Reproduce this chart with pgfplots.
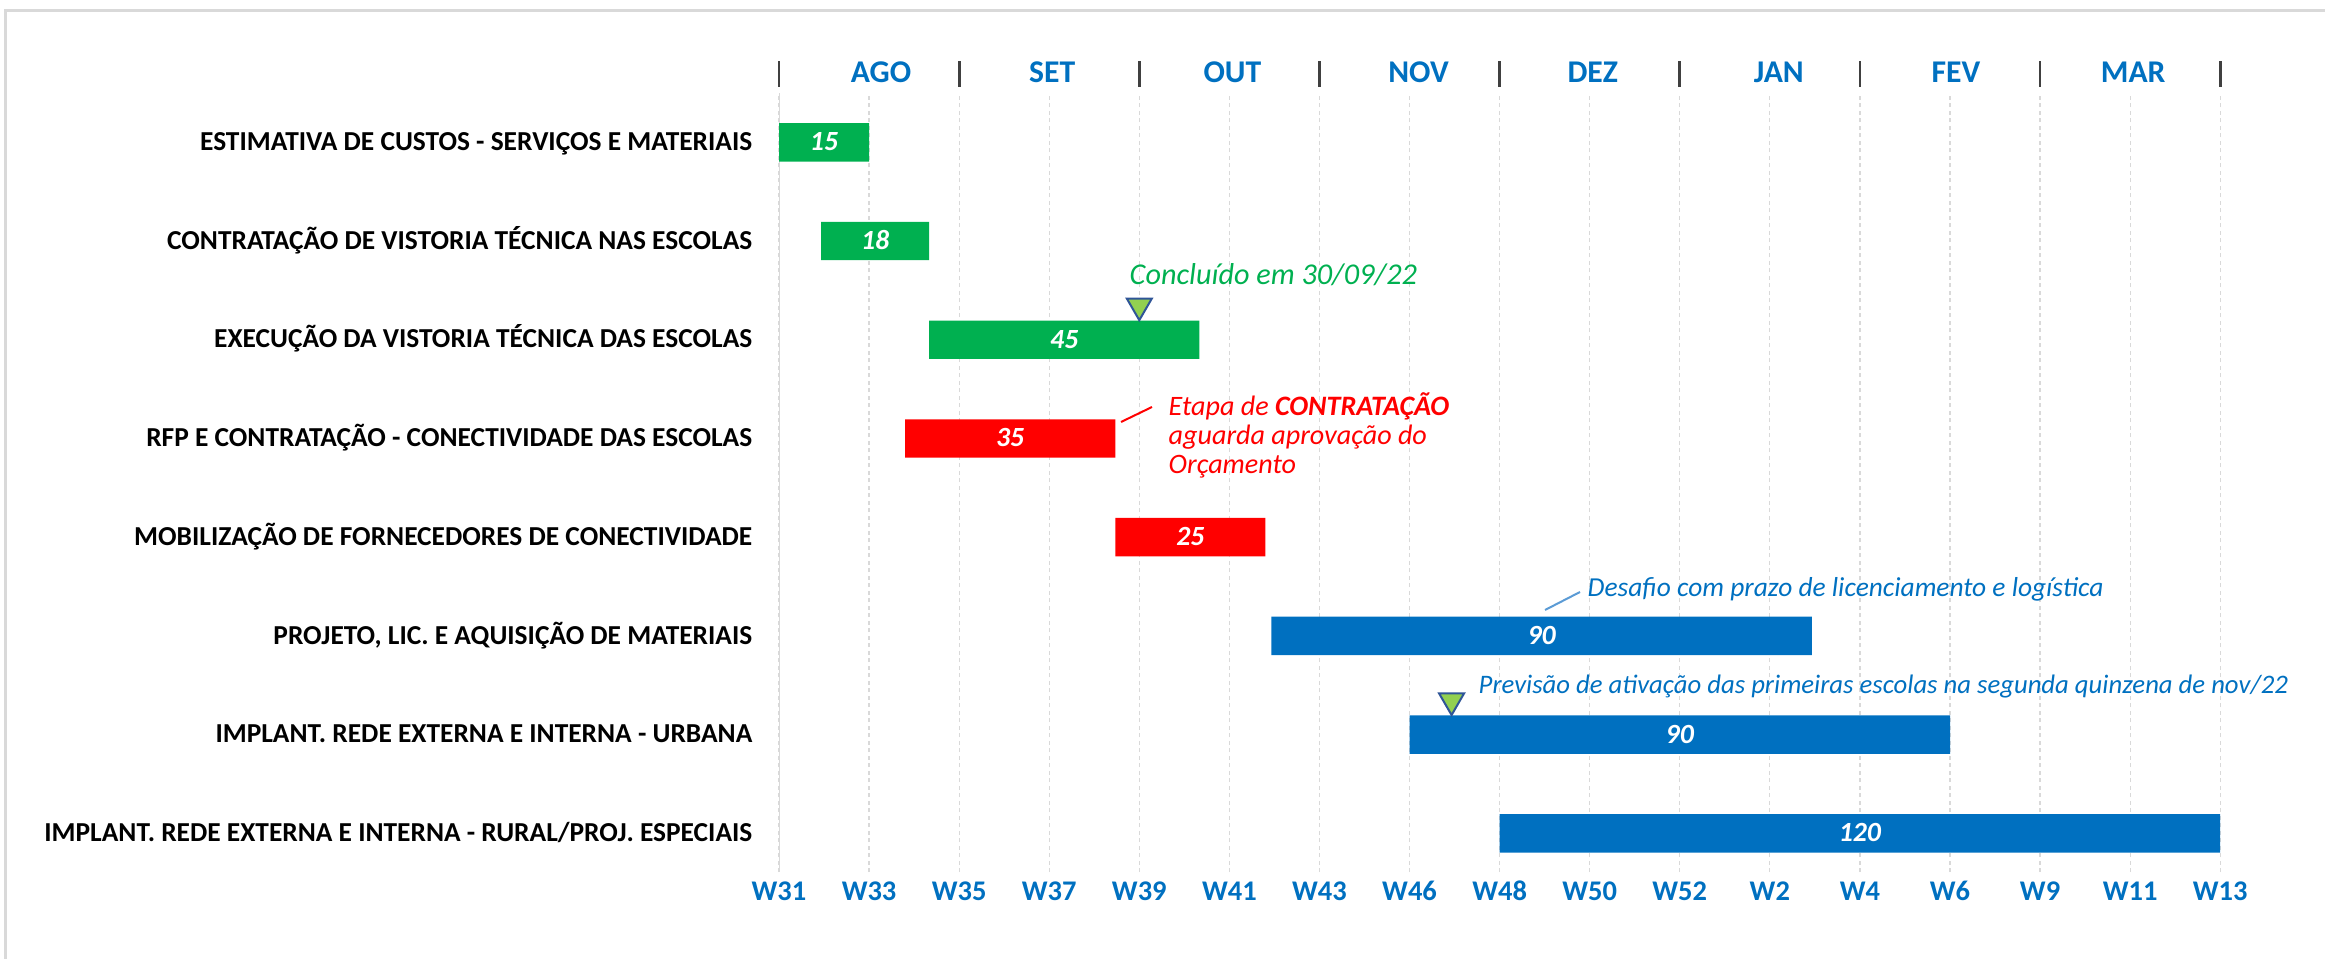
\documentclass[border=0pt]{standalone}
\usepackage{pgfplots}
\pgfplotsset{compat=1.18}
\usepackage{pgfplotstable}
\usepackage{fontspec}
\setmainfont{Carlito}
\definecolor{cgreen}{HTML}{00B050}
\definecolor{cred}{HTML}{FF0000}
\definecolor{cblue}{HTML}{0070C0}
\definecolor{cgrid}{HTML}{D9D9D9}
\definecolor{ctri}{HTML}{92D050}
\definecolor{ctriedge}{HTML}{2F5597}
\definecolor{clink}{HTML}{5B9BD5}
\definecolor{csep}{HTML}{404040}
\newcommand\lab{\fontsize{7.8}{9}\selectfont}
\newcommand\tck{\fontsize{8.1}{9.5}\selectfont}
\newcommand\val{\fontsize{7.9}{9.5}\selectfont}
\newcommand\mon{\fontsize{9}{10.5}\selectfont}
\newcommand\sepbar{\textcolor{csep}{\rule[-0.04cm]{0.028cm}{0.26cm}}}

\pgfplotstableread{
row start green red blue dur
8 0 15 0 0 15
7 7 18 0 0 18
6 25 45 0 0 45
5 21 0 35 0 35
4 56 0 25 0 25
3 82 0 0 90 90
2 105 0 0 90 90
1 120 0 0 120 120
}\tasks

\pgfplotstableread{
x y
60 6.344
112 2.344
}\milestones

\begin{document}
\begin{tikzpicture}[x=1cm,y=1cm]
\path[use as bounding box] (0,0) rectangle (23.25,9.59);
\draw[cgrid, line width=0.03cm] (0.05,0) -- (0.05,9.48) -- (23.25,9.48);

\begin{axis}[
  at={(7.79cm,8.66cm)}, anchor=north west,
  width=14.412cm, height=7.79cm, scale only axis,
  xmin=0, xmax=240, ymin=0.608, ymax=8.5,
  xbar stacked, bar width=0.384cm,
  xtick={0,15,...,240},
  xticklabels={W31,W33,W35,W37,W39,W41,W43,W46,W48,W50,W52,W2,W4,W6,W9,W11,W13},
  ytick={1,...,8},
  yticklabels={
    IMPLANT. REDE EXTERNA E INTERNA - RURAL/PROJ. ESPECIAIS,
    IMPLANT. REDE EXTERNA E INTERNA - URBANA,
    {PROJETO, LIC. E AQUISIÇÃO DE MATERIAIS},
    MOBILIZAÇÃO DE FORNECEDORES DE CONECTIVIDADE,
    RFP E CONTRATAÇÃO - CONECTIVIDADE DAS ESCOLAS,
    EXECUÇÃO DA VISTORIA TÉCNICA DAS ESCOLAS,
    CONTRATAÇÃO DE VISTORIA TÉCNICA NAS ESCOLAS,
    ESTIMATIVA DE CUSTOS - SERVIÇOS E MATERIAIS},
  major tick length=0,
  axis line style={draw=none},
  xmajorgrids,
  grid style={cgrid, line width=0.012cm, dash pattern=on 0.04cm off 0.035cm},
  yticklabel style={anchor=base east, inner sep=0pt, xshift=-0.26cm, yshift=-0.082cm, font=\bfseries\lab, text=black},
  xticklabel style={anchor=base, inner sep=0pt, yshift=-0.28cm, font=\bfseries\tck, text=cblue},
]
\addplot[fill=none, draw=none] table[x=start, y=row] {\tasks};
\addplot[fill=cgreen, draw=none] table[x=green, y=row] {\tasks};
\addplot[fill=cred, draw=none] table[x=red, y=row] {\tasks};
\addplot[fill=cblue, draw=none] table[x=blue, y=row] {\tasks};
\draw[cgrid, line width=0.025cm] (rel axis cs:0,0) -- (rel axis cs:0,1);
\end{axis}

\begin{axis}[
  at={(7.79cm,8.66cm)}, anchor=north west,
  width=14.412cm, height=7.79cm, scale only axis,
  xmin=0, xmax=240, ymin=0.608, ymax=8.5,
  clip=false,
  axis line style={draw=none},
  major tick length=0,
  ytick=\empty,
  xtick={17,45.5,75.5,106.5,135.5,166.5,196,225.5},
  xticklabels={AGO,SET,OUT,NOV,DEZ,JAN,FEV,MAR},
  xticklabel pos=upper,
  xticklabel style={anchor=base, inner sep=0pt, yshift=0.10cm, font=\bfseries\mon, text=cblue},
  extra x ticks={0,30,...,240},
  extra x tick labels={\sepbar,\sepbar,\sepbar,\sepbar,\sepbar,\sepbar,\sepbar,\sepbar,\sepbar},
  extra x tick style={xticklabel pos=upper},
]
\addplot[only marks, mark=none, nodes near coords, point meta=explicit symbolic,
  every node near coord/.append style={anchor=base, inner sep=0pt, yshift=-0.085cm, font=\bfseries\itshape\val, text=white}]
  table[x expr=\thisrow{start}+0.5*\thisrow{dur}, y=row, meta=dur] {\tasks};
\addplot[only marks, mark=triangle*, mark size=0.144cm,
  mark options={rotate=180, fill=ctri, draw=ctriedge, line width=0.02cm}]
  table[x=x, y=y] {\milestones};
\end{axis}

% annotations
\node[anchor=base west, inner sep=0pt, text=cgreen, font=\itshape\fontsize{8.6}{10}\selectfont] at (11.29,6.745) {Concluído em 30/09/22};
\draw[cred, line width=0.02cm] (11.21,5.37) -- (11.52,5.52);
\node[anchor=base west, inner sep=0pt, text=cred, font=\itshape\fontsize{8}{9.5}\selectfont] at (11.68,5.43) {Etapa de \textbf{CONTRATAÇÃO}};
\node[anchor=base west, inner sep=0pt, text=cred, font=\itshape\fontsize{8}{9.5}\selectfont] at (11.68,5.14) {aguarda aprovação do};
\node[anchor=base west, inner sep=0pt, text=cred, font=\itshape\fontsize{8}{9.5}\selectfont] at (11.68,4.85) {Orçamento};
\draw[clink, line width=0.02cm] (15.45,3.49) -- (15.80,3.67);
\node[anchor=base west, inner sep=0pt, text=cblue, font=\itshape\fontsize{7.8}{9.3}\selectfont] at (15.87,3.62) {Desafio com prazo de licenciamento e logística};
\node[anchor=base west, inner sep=0pt, text=cblue, font=\itshape\fontsize{7.6}{9}\selectfont] at (14.78,2.65) {Previsão de ativação das primeiras escolas na segunda quinzena de nov/22};
\end{tikzpicture}
\end{document}
